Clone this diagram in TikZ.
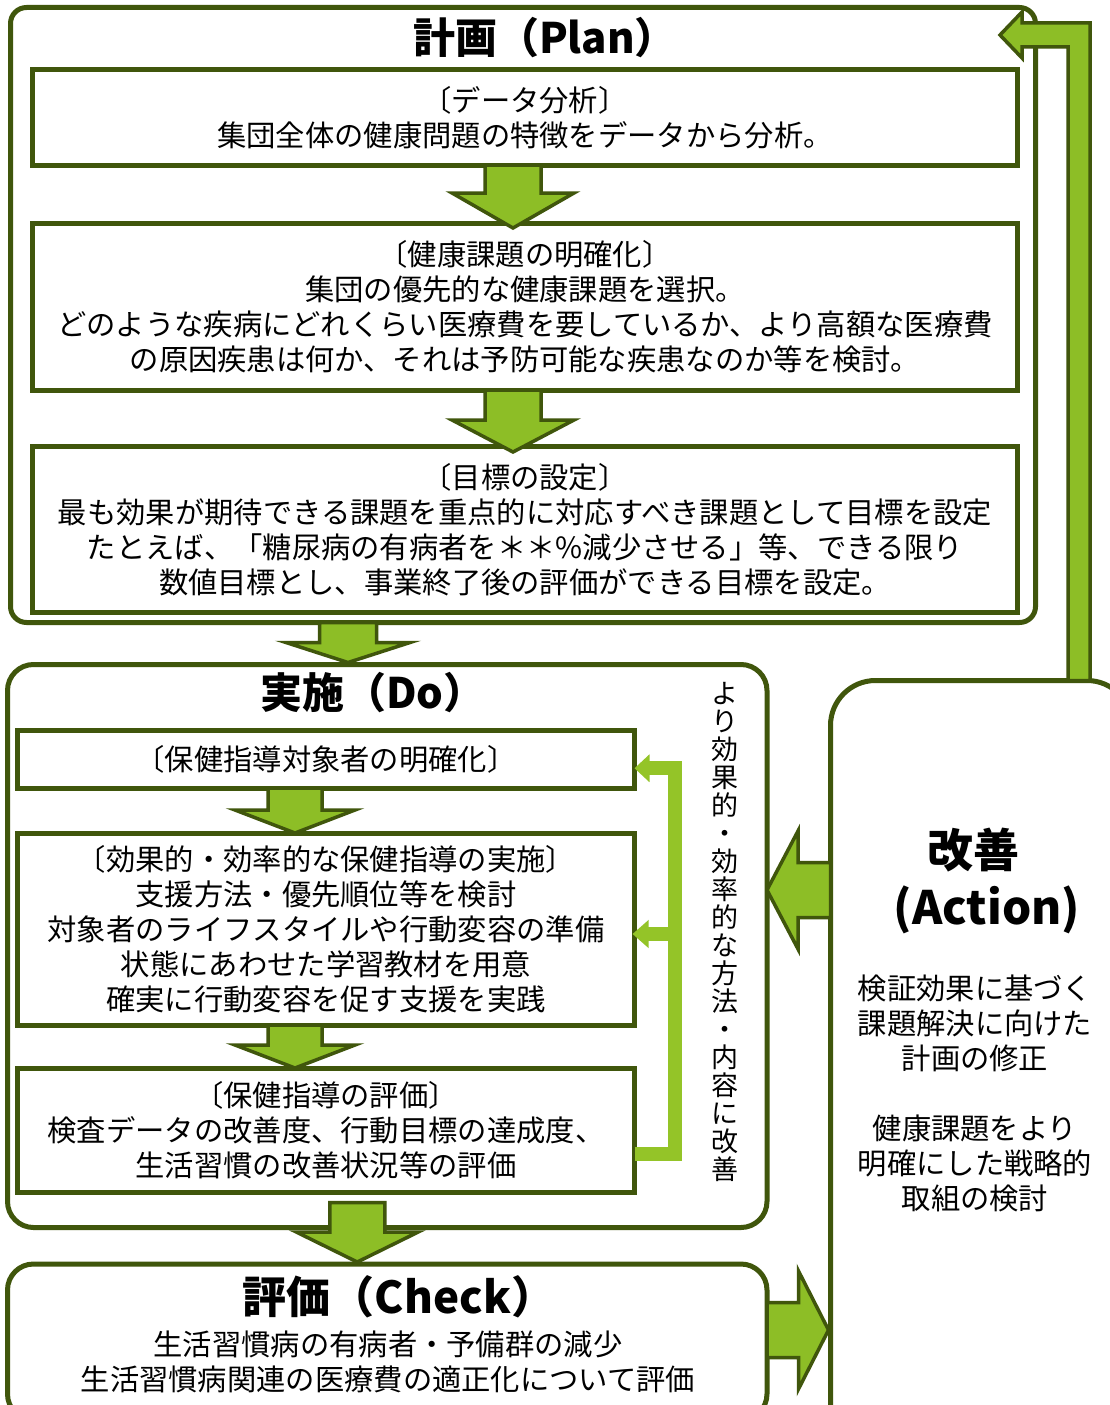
\documentclass[tikz,border=0pt]{standalone}
\usepackage{fontspec}
\setmainfont{Noto Sans CJK JP}
\usetikzlibrary{calc,arrows.meta}
\definecolor{dk}{RGB}{64,86,12}
\definecolor{grn}{RGB}{141,190,38}
\definecolor{fbg}{RGB}{148,196,40}
\newcommand\bodyfont{\fontsize{29.3}{35}\selectfont}
\newcommand\ttlfont{\fontsize{42}{48}\selectfont\bfseries}
\newcommand\chkfont{\fontsize{44}{50}\selectfont\bfseries}
\newcommand\actfont{\fontsize{46}{54}\selectfont\bfseries}
\newcommand\vtfont{\fontsize{27}{27.95}\selectfont}
% down block arrow: start, tip, shaft half width, head half width, head length
\newcommand\dnarr[5]{\draw[barrow] let \p1=#1, \p2=#2 in (\x1-#3,\y1) -- (\x1-#3,\y2+#5) -- (\x1-#4,\y2+#5) -- (\x1,\y2) -- (\x1+#4,\y2+#5) -- (\x1+#3,\y2+#5) -- (\x1+#3,\y1) -- cycle;}
% horizontal block arrow: start, tip, shaft half width, head half width, signed head length
\newcommand\harr[5]{\draw[barrow] let \p1=#1, \p2=#2 in (\x1,\y1+#3) -- (\x2+#5,\y1+#3) -- (\x2+#5,\y1+#4) -- (\x2,\y1) -- (\x2+#5,\y1-#4) -- (\x2+#5,\y1-#3) -- (\x1,\y1-#3) -- cycle;}
\begin{document}
\begin{tikzpicture}[x=1pt,y=-1pt,
  outer/.style={draw=dk,line width=5,rounded corners=#1,inner sep=0,outer sep=0,fill=white},
  outer/.default=18,
  inbox/.style={draw=dk,line width=5,inner sep=0,outer sep=0,align=center,font=\bodyfont,fill=white},
  barrow/.style={draw=dk,fill=grn,line width=3.5,line join=miter},
  fb/.style={draw=fbg,line width=14},
  ttl/.style={font=\ttlfont,inner sep=0},
  txt/.style={font=\bodyfont,align=center,inner sep=0}]
\useasboundingbox (0,0) rectangle (1110,1405);
\fill[white] (0,0) rectangle (1110,1405);

% ---------- Plan ----------
\node[outer=16,minimum width=1025,minimum height=615] (plan) at (523,315) {};
\node[ttl] (plantitle) at (545,38) {計画（Plan）};
\node[inbox,minimum width=985,minimum height=95.5] (p1) at (525,117.25)
  {〔データ分析〕\\集団全体の健康問題の特徴をデータから分析。};
\node[inbox,minimum width=985,minimum height=167] (p2) at (525,306.5)
  {〔健康課題の明確化〕\\集団の優先的な健康課題を選択。\\どのような疾病にどれくらい医療費を要しているか、より高額な医療費\\の原因疾患は何か、それは予防可能な疾患なのか等を検討。};
\node[inbox,minimum width=985,minimum height=166.5] (p3) at (525,529.25)
  {〔目標の設定〕\\最も効果が期待できる課題を重点的に対応すべき課題として目標を設定\\たとえば、「糖尿病の有病者を＊＊\%減少させる」等、できる限り\\数値目標とし、事業終了後の評価ができる目標を設定。};
\dnarr{($(p1.south)+(-12,0)$)}{($(p2.north)+(-12,5)$)}{28}{61}{35}
\dnarr{($(p2.south)+(-12,0)$)}{($(p3.north)+(-12,6)$)}{28}{61}{32}

% ---------- Do ----------
\node[outer=26,minimum width=759.5,minimum height=563] (do) at (387.25,946) {};
\node[ttl] (dotitle) at (373,693) {実施（Do）};
\node[inbox,minimum width=617,minimum height=57.5] (d1) at (326,759.25)
  {〔保健指導対象者の明確化〕};
\node[inbox,minimum width=617,minimum height=192] (d2) at (326,929)
  {〔効果的・効率的な保健指導の実施〕\\支援方法・優先順位等を検討\\対象者のライフスタイルや行動変容の準備\\状態にあわせた学習教材を用意\\確実に行動変容を促す支援を実践};
\node[inbox,minimum width=617,minimum height=124.5] (d3) at (326,1130.25)
  {〔保健指導の評価〕\\検査データの改善度、行動目標の達成度、\\生活習慣の改善状況等の評価};
\dnarr{($(d1.south)+(-31,0)$)}{($(d2.north)+(-31,0)$)}{27}{60}{23}
\dnarr{($(d2.south)+(-31,0)$)}{($(d3.north)+(-31,0)$)}{27}{60}{23}
% light green feedback inside Do
\draw[fb,-{Triangle[length=15pt,width=27pt]}] ($(d3.east)+(0,24)$) -| ($(d1.east)+(40,9)$) -- ($(d1.east)+(0,9)$);
\draw[fb,-{Triangle[length=16pt,width=27pt]}] ($(d2.east)+(40,5)$) -- ($(d2.east)+(-2,5)$);
\node[font=\vtfont,align=center,inner sep=0] (vtxt) at (725,932)
  {よ\\り\\効\\果\\的\\・\\効\\率\\的\\な\\方\\法\\・\\内\\容\\に\\改\\善};

% ---------- Check ----------
\node[outer=26,minimum width=759.5,minimum height=156] (chk) at (387.25,1342) {};
\node[font=\chkfont,inner sep=0] (chktitle) at (399,1297) {評価（Check）};
\node[txt] (chktxt) at (388,1361.5)
  {生活習慣病の有病者・予備群の減少\\生活習慣病関連の医療費の適正化について評価};

% ---------- Action ----------
\node[outer=45,minimum width=301.5,minimum height=769.5] (act) at (981.25,1065.25) {};
\node[font=\actfont,inner sep=0] (acttitle) at (973,850) {改善};
\node[font=\actfont,inner sep=0] (actsub) at (987,910) {(Action)};
\node[txt] (acttxt) at (975,1093)
  {検証効果に基づく\\課題解決に向けた\\計画の修正\\[35pt]健康課題をより\\明確にした戦略的\\取組の検討};

% ---------- block arrows between phases ----------
\dnarr{($(plan.south)+(-175,0)$)}{($(do.north)+(-175,-2)$)}{28.5}{62}{20}
\dnarr{($(do.south)+(-30,-25)$)}{($(chk.north)+(-30,-2)$)}{27.5}{61}{30}
\harr{($(act.west)+(0,-175.25)$)}{($(do.east)+(0,-56)$)}{27.5}{59}{31}
\harr{($(chk.east)+(0,-12)$)}{($(act.west)+(-2,264.75)$)}{27.5}{59}{-30}
% big feedback arrow Action -> Plan
\draw[barrow] let \p1=($(act.north)+(97.75,0)$), \p2=($(plan.north east)+(-35.5,27.5)$) in
  (\x1+11,\y1) -- (\x1+11,\y2+12) -- (\x2+22,\y2+12) -- (\x2+22,\y2+23) -- (\x2,\y2)
  -- (\x2+22,\y2-23) -- (\x2+22,\y2-12) -- (\x1-11,\y2-12) -- (\x1-11,\y1) -- cycle;
\end{tikzpicture}
\end{document}
